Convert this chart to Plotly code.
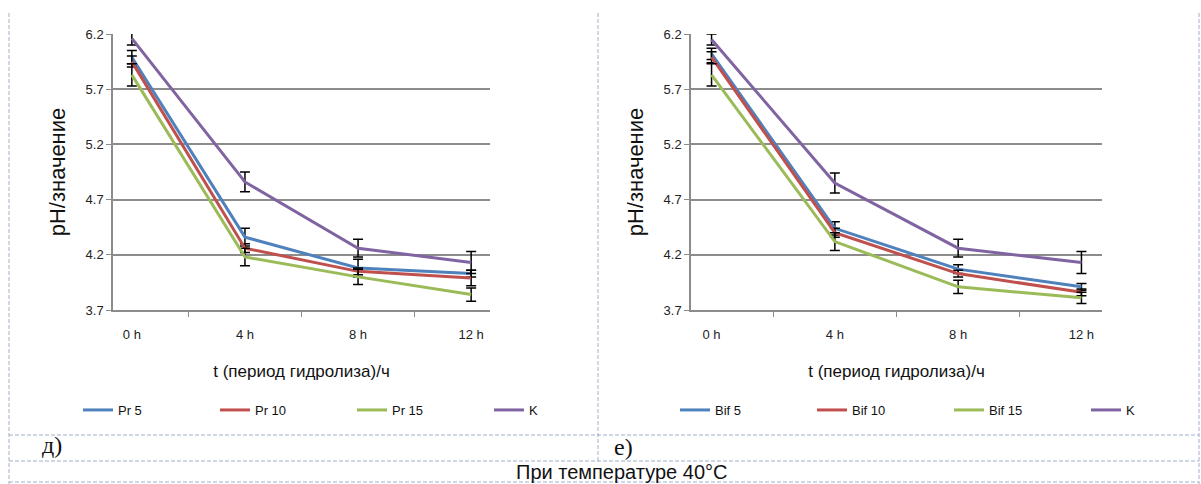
import plotly.graph_objects as go

categories = ["0 h", "4 h", "8 h", "12 h"]

# Left panel (д)
pr5 = [5.99, 4.36, 4.08, 4.03]
pr10 = [5.95, 4.26, 4.05, 3.99]
pr15 = [5.83, 4.18, 4.00, 3.84]
k_left = [6.16, 4.86, 4.26, 4.13]
pr5_err = [0.06, 0.08, 0.08, 0.03]
pr10_err = [0.05, 0.04, 0.03, 0.07]
pr15_err = [0.10, 0.08, 0.07, 0.06]
k_left_err = [0.06, 0.09, 0.08, 0.10]

# Right panel (е)
bif5 = [6.02, 4.44, 4.07, 3.91]
bif10 = [5.99, 4.40, 4.03, 3.86]
bif15 = [5.83, 4.32, 3.91, 3.81]
k_right = [6.15, 4.85, 4.26, 4.13]
bif5_err = [0.05, 0.06, 0.04, 0.03]
bif10_err = [0.05, 0.04, 0.03, 0.03]
bif15_err = [0.10, 0.08, 0.06, 0.05]
k_right_err = [0.05, 0.09, 0.08, 0.10]

left_names = ["Pr 5", "Pr 10", "Pr 15", "K"]
right_names = ["Bif 5", "Bif 10", "Bif 15", "K"]
colors = ["#4F81BD", "#C0504D", "#9BBB59", "#8064A2"]

W, H = 1201, 484
fig = go.Figure()

def add_series(vals, errs, name, color, xa, ya, legend):
    fig.add_trace(go.Scatter(
        x=categories, y=vals, name=name, mode="lines",
        line=dict(color=color, width=3),
        error_y=dict(type="data", array=errs, visible=True, color="#000000",
                     thickness=1.5, width=5),
        xaxis=xa, yaxis=ya, legend=legend,
    ))

for vals, errs, name, c in zip([pr5, pr10, pr15, k_left],
                               [pr5_err, pr10_err, pr15_err, k_left_err],
                               left_names, colors):
    add_series(vals, errs, name, c, "x", "y", "legend")

for vals, errs, name, c in zip([bif5, bif10, bif15, k_right],
                               [bif5_err, bif10_err, bif15_err, k_right_err],
                               right_names, colors):
    add_series(vals, errs, name, c, "x2", "y2", "legend2")

def px(x):
    return x / W

def py(y):
    return 1 - y / H

grid_col = "#8C8C8C"
xaxis_common = dict(
    type="category", tickson="boundaries", ticks="outside", ticklen=5,
    tickcolor=grid_col, showline=True, linecolor=grid_col, linewidth=1.5,
    showgrid=False, zeroline=False, ticklabelstandoff=12, automargin=False,
    tickfont=dict(family="Arial, Liberation Sans", size=13, color="#222222"),
    title=dict(text="t (период гидролиза)/ч", standoff=24,
               font=dict(family="Arial, Liberation Sans", size=17, color="#111111")),
    fixedrange=True,
)
yaxis_common = dict(
    range=[3.7, 6.2], tick0=3.7, dtick=0.5, tickformat=".1f",
    ticks="outside", ticklen=5, tickcolor=grid_col, automargin=False,
    showline=True, linecolor=grid_col, linewidth=1.5,
    showgrid=True, gridcolor=grid_col, gridwidth=1.5, zeroline=False,
    tickfont=dict(family="Arial, Liberation Sans", size=13, color="#222222"),
    title=dict(text="pH/значение", standoff=14,
               font=dict(family="Arial, Liberation Sans", size=22, color="#111111")),
    fixedrange=True,
)

legend_common = dict(
    orientation="h", xanchor="left", yanchor="middle",
    font=dict(family="Arial, Liberation Sans", size=13, color="#111111"),
    bgcolor="rgba(0,0,0,0)", entrywidth=92, entrywidthmode="pixels",
    tracegroupgap=0, itemwidth=30,
)

border = "#9FB0C8"
shapes = []
def dline(x0, y0, x1, y1):
    shapes.append(dict(type="line", xref="paper", yref="paper",
                       x0=px(x0), y0=py(y0), x1=px(x1), y1=py(y1),
                       line=dict(color=border, width=1, dash="4px,2px")))

dline(9, 13, 9, 484)
dline(598, 13, 598, 461)
dline(1199, 13, 1199, 484)
dline(9, 435, 1199, 435)
dline(9, 461, 1199, 461)
dline(9, 482, 1199, 482)

fig.update_layout(
    width=W, height=H,
    margin=dict(l=0, r=0, t=0, b=0, autoexpand=False),
    paper_bgcolor="white", plot_bgcolor="white",
    showlegend=True,
    xaxis=dict(domain=[px(113), px(490)], anchor="y", **xaxis_common),
    yaxis=dict(domain=[py(310), py(34)], anchor="x", **yaxis_common),
    xaxis2=dict(domain=[px(691), px(1102)], anchor="y2", **xaxis_common),
    yaxis2=dict(domain=[py(310), py(34)], anchor="x2", **yaxis_common),
    legend=dict(x=px(78), y=py(410), **legend_common),
    legend2=dict(x=px(675), y=py(410), **legend_common),
    shapes=shapes,
    annotations=[
        dict(text="д)", x=px(40), y=py(460), xref="paper", yref="paper",
             showarrow=False, font=dict(family="Liberation Serif, Times New Roman", size=24, color="#111111")),
        dict(text="е)", x=px(623), y=py(462), xref="paper", yref="paper",
             showarrow=False, font=dict(family="Liberation Serif, Times New Roman", size=24, color="#111111")),
        dict(text="При температуре 40°С", x=px(621), y=py(472), xref="paper", yref="paper",
             yanchor="middle", showarrow=False,
             font=dict(family="Arial, Liberation Sans", size=20, color="#111111")),
    ],
)

fig.write_html("out.html")
